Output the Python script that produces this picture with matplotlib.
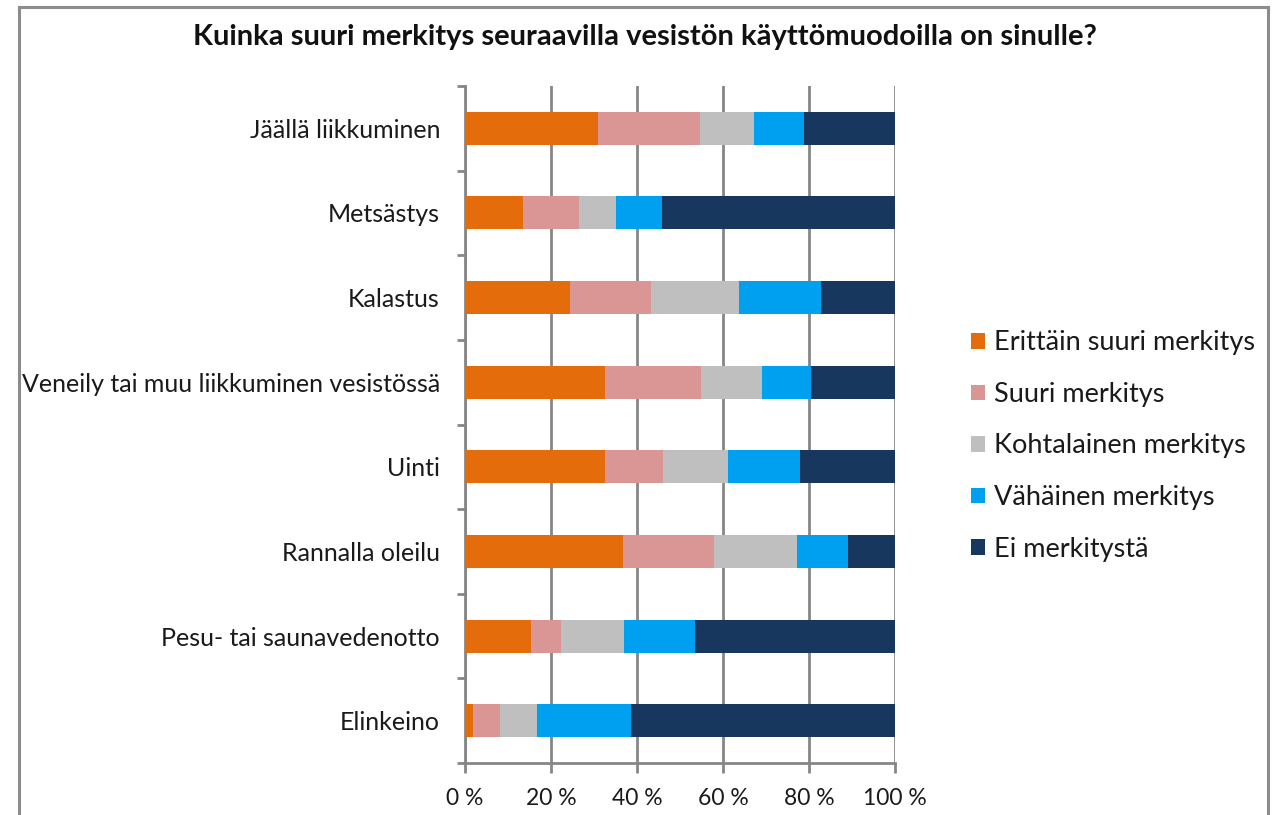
import matplotlib
matplotlib.use("Agg")
import matplotlib.pyplot as plt
from matplotlib.patches import Rectangle, Patch
import numpy as np

plt.rcParams['font.family'] = ['Lato', 'DejaVu Sans']

# Data (percent of respondents)
categories = [
    "Jäällä liikkuminen",
    "Metsästys",
    "Kalastus",
    "Veneily tai muu liikkuminen vesistössä",
    "Uinti",
    "Rannalla oleilu",
    "Pesu- tai saunavedenotto",
    "Elinkeino",
]
series_names = [
    "Erittäin suuri merkitys",
    "Suuri merkitys",
    "Kohtalainen merkitys",
    "Vähäinen merkitys",
    "Ei merkitystä",
]
erittain_suuri = [30.9, 13.5, 24.5, 32.6, 32.6, 36.7, 15.3, 1.8]
suuri = [23.8, 13.1, 18.8, 22.3, 13.4, 21.2, 7.1, 6.3]
kohtalainen = [12.4, 8.4, 20.5, 14.2, 15.2, 19.4, 14.6, 8.6]
vahainen = [11.7, 10.7, 18.9, 11.4, 16.7, 11.7, 16.4, 21.8]
ei_merkitysta = [21.2, 54.3, 17.3, 19.5, 22.1, 11.0, 46.6, 61.5]
x_ticks = [0, 20, 40, 60, 80, 100]
x_ticklabels = ["0 %", "20 %", "40 %", "60 %", "80 %", "100 %"]

colors = ["#E46C0A", "#D99694", "#BFBFBF", "#00A0F0", "#17375E"]
grid_col = "#868686"
text_col = "#1A1A1A"

W, H = 1273, 815
fig = plt.figure(figsize=(W / 100, H / 100), dpi=100)

# chart area border
fig.patches.append(Rectangle((18.5 / W, -0.05), (1268 - 18.5) / W, 1.05 - 7 / H,
                             transform=fig.transFigure, fill=False,
                             edgecolor="#8C8C8C", linewidth=2.2, zorder=0))

ax = fig.add_axes([465 / W, 1 - 763 / H, (895 - 465) / W, (763 - 86) / H])

series = [erittain_suuri, suuri, kohtalainen, vahainen, ei_merkitysta]
y = np.arange(len(categories))
left = np.zeros(len(categories))
for name, vals, c in zip(series_names, series, colors):
    vals = np.array(vals)
    ax.barh(y, vals, left=left, height=0.39, color=c, label=name, zorder=3)
    left += vals

ax.set_xlim(0, 100)
ax.set_ylim(len(categories) - 0.5, -0.5)
ax.set_xticks(x_ticks)
ax.set_xticklabels(x_ticklabels, fontsize=16.5, color=text_col)
ax.set_yticks(y)
ax.set_yticklabels(categories, fontsize=18, color=text_col)
ax.set_yticks(np.arange(len(categories) + 1) - 0.5, minor=True)
ax.tick_params(axis="y", which="major", length=0, pad=18)
ax.tick_params(axis="y", which="minor", length=6, width=2, color=grid_col)
ax.tick_params(axis="x", length=7, width=2, color=grid_col, pad=11)
ax.xaxis.grid(True, color=grid_col, linewidth=2, zorder=0)
ax.set_axisbelow(True)
for s in ["top", "right"]:
    ax.spines[s].set_visible(False)
for s in ["left", "bottom"]:
    ax.spines[s].set_color(grid_col)
    ax.spines[s].set_linewidth(2)

fig.text(645 / W, 1 - 37 / H, "Kuinka suuri merkitys seuraavilla vesistön käyttömuodoilla on sinulle?",
         ha="center", va="center", fontsize=21, fontweight="bold", color="#111111")

handles = [Patch(facecolor=c, edgecolor="none") for c in colors]
fig.legend(handles, series_names, loc="center left",
           bbox_to_anchor=(947 / W, 1 - 446 / H), frameon=False,
           fontsize=19.5, handlelength=0.5, handleheight=0.5, handletextpad=0.35,
           labelspacing=0.98, labelcolor=text_col)

fig.savefig("out.png", dpi=100)
